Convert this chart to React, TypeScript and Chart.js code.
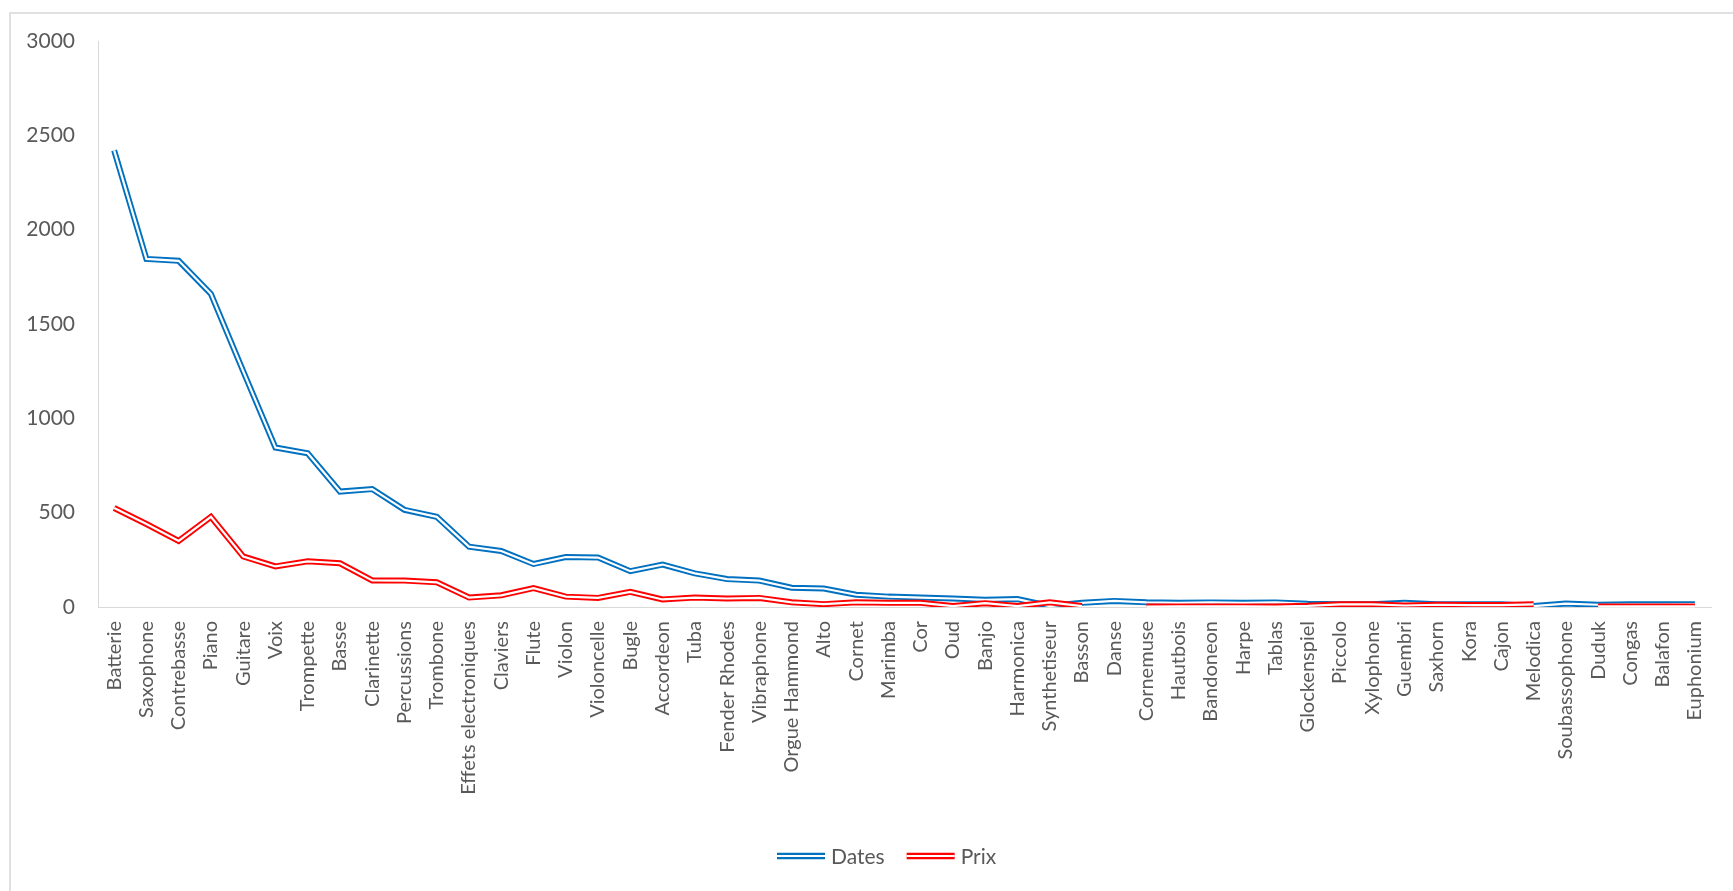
import React, { useEffect, useRef } from "react";
import { Chart, registerables } from "chart.js";

Chart.register(...registerables);

const categories = [
  "Batterie", "Saxophone", "Contrebasse", "Piano", "Guitare", "Voix", "Trompette", "Basse",
  "Clarinette", "Percussions", "Trombone", "Effets electroniques", "Claviers", "Flute", "Violon",
  "Violoncelle", "Bugle", "Accordeon", "Tuba", "Fender Rhodes", "Vibraphone", "Orgue Hammond",
  "Alto", "Cornet", "Marimba", "Cor", "Oud", "Banjo", "Harmonica", "Synthetiseur", "Basson",
  "Danse", "Cornemuse", "Hautbois", "Bandoneon", "Harpe", "Tablas", "Glockenspiel", "Piccolo",
  "Xylophone", "Guembri", "Saxhorn", "Kora", "Cajon", "Melodica", "Soubassophone", "Duduk",
  "Congas", "Balafon", "Euphonium",
];

const dates = [
  2420, 1845, 1835, 1660, 1250, 845, 815, 612, 625, 515, 478, 320, 297, 228, 265, 262, 190, 225,
  178, 148, 140, 102, 98, 65, 55, 50, 45, 38, 42, 5, 22, 32, 25, 22, 24, 22, 24, 17, 14, 14, 22,
  15, 15, 15, 5, 18, 12, 14, 14, 15,
];

const prix: (number | null)[] = [
  525, 440, 350, 478, 268, 215, 242, 232, 141, 140, 131, 50, 62, 100, 55, 48, 80, 40, 50, 45, 48,
  25, 15, 25, 22, 22, 5, 20, 5, 25, 5, null, 2, 3, 3, 3, 2, 6, 14, 14, 8, 12, 10, 10, 14, null,
  3, 3, 3, 3,
];

const yTicks = [0, 500, 1000, 1500, 2000, 2500, 3000];

const FONT = "Lato, 'Noto Sans', sans-serif";
const TEXT = "#595959";
const AXIS = "#d9d9d9";
const BLUE = "#0070C0";
const RED = "#FF0000";

const doubleLinePlugin = {
  id: "doubleLine",
  afterDatasetDraw(chart: any, args: any) {
    const meta = args.meta;
    const ctx = chart.ctx;
    ctx.save();
    ctx.strokeStyle = "#ffffff";
    ctx.lineWidth = 2.2;
    ctx.lineJoin = "miter";
    ctx.lineCap = "butt";
    let open = false;
    ctx.beginPath();
    for (const pt of meta.data) {
      if (pt.skip) {
        open = false;
        continue;
      }
      if (!open) {
        ctx.moveTo(pt.x, pt.y);
        open = true;
      } else {
        ctx.lineTo(pt.x, pt.y);
      }
    }
    ctx.stroke();
    ctx.restore();
  },
};

const legendPlugin = {
  id: "customLegend",
  afterDraw(chart: any) {
    const ctx = chart.ctx;
    ctx.save();
    ctx.font = `21px ${FONT}`;
    ctx.textBaseline = "middle";
    ctx.textAlign = "left";
    const y = 856;
    let x = 777;
    chart.data.datasets.forEach((ds: any) => {
      ctx.strokeStyle = ds.borderColor;
      ctx.lineWidth = 6.5;
      ctx.lineCap = "butt";
      ctx.beginPath();
      ctx.moveTo(x, y);
      ctx.lineTo(x + 48, y);
      ctx.stroke();
      ctx.strokeStyle = "#ffffff";
      ctx.lineWidth = 2.2;
      ctx.beginPath();
      ctx.moveTo(x, y);
      ctx.lineTo(x + 48, y);
      ctx.stroke();
      ctx.fillStyle = TEXT;
      ctx.fillText(ds.label, x + 54, y + 1);
      x += 54 + ctx.measureText(ds.label).width + 22;
    });
    ctx.restore();
  },
};

export default function App() {
  const ref = useRef<HTMLCanvasElement | null>(null);

  useEffect(() => {
    if (!ref.current) return;
    const chart = new Chart(ref.current, {
      type: "line",
      data: {
        labels: categories,
        datasets: [
          {
            label: "Dates",
            data: dates,
            borderColor: BLUE,
            backgroundColor: BLUE,
            borderWidth: 6,
            pointRadius: 0,
            tension: 0,
            order: 1,
          },
          {
            label: "Prix",
            data: prix,
            borderColor: RED,
            backgroundColor: RED,
            borderWidth: 6,
            pointRadius: 0,
            tension: 0,
            spanGaps: false,
            order: 0,
          },
        ],
      },
      options: {
        animation: false,
        responsive: false,
        maintainAspectRatio: false,
        layout: { padding: { top: 41, left: 0, right: 10, bottom: 0 } },
        plugins: {
          legend: { display: false },
          tooltip: { enabled: false },
        },
        scales: {
          x: {
            offset: true,
            grid: { display: false, drawTicks: false },
            border: { display: true, color: AXIS, width: 1 },
            ticks: {
              autoSkip: false,
              maxRotation: 90,
              minRotation: 90,
              padding: 14,
              color: TEXT,
              font: { family: FONT, size: 20 },
            },
            afterFit: (scale: any) => {
              scale.height = 284;
            },
          },
          y: {
            min: 0,
            max: 3000,
            afterBuildTicks: (scale: any) => {
              scale.ticks = yTicks.map((v) => ({ value: v }));
            },
            grid: { display: false, drawTicks: false },
            border: { display: true, color: AXIS, width: 1 },
            ticks: {
              padding: 23,
              color: TEXT,
              font: { family: FONT, size: 21 },
              callback: (v: any) => String(v),
            },
            afterFit: (scale: any) => {
              scale.width = 98;
            },
          },
        },
      },
      plugins: [doubleLinePlugin, legendPlugin],
    });
    return () => chart.destroy();
  }, []);

  return (
    <div
      style={{
        position: "fixed",
        left: 0,
        top: 0,
        width: 1733,
        height: 891,
        overflow: "hidden",
        background: "#ffffff",
      }}
    >
      <div
        style={{
          position: "absolute",
          left: 9,
          top: 12,
          right: -10,
          bottom: -10,
          borderLeft: "2px solid #e0e0e0",
          borderTop: "2px solid #e0e0e0",
        }}
      />
      <canvas
        ref={ref}
        width={1733}
        height={891}
        style={{ position: "absolute", left: 0, top: 0, width: 1733, height: 891 }}
      />
    </div>
  );
}
